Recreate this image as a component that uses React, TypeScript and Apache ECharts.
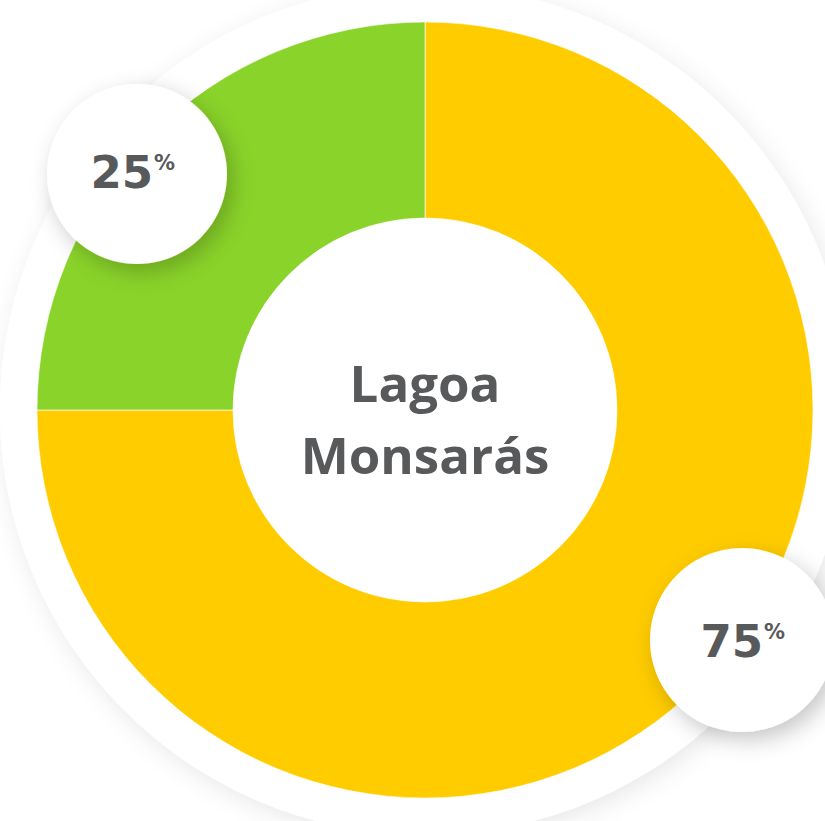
import React, { useEffect, useRef } from "react";
import * as echarts from "echarts";

const categories = ["Segmento A", "Segmento B"];
const values = [75, 25];
const colors = ["#FFCC00", "#8AD32A"];
const centerLines = ["Lagoa", "Monsarás"];

const FONT = "'Open Sans', 'DejaVu Sans', sans-serif";
const NUM_FONT = "'DejaVu Sans', 'Open Sans', sans-serif";
const TEXT_COLOR = "#58595B";

function badge(cx: number, cy: number, r: number, value: number, tx: number, ty: number) {
  return {
    type: "group",
    z: 100,
    children: [
      {
        type: "circle",
        shape: { cx, cy, r },
        style: {
          fill: "#ffffff",
          shadowBlur: 22,
          shadowOffsetX: 6,
          shadowOffsetY: 8,
          shadowColor: "rgba(0,0,0,0.22)",
        },
        z: 100,
      },
      {
        type: "text",
        x: tx,
        y: ty,
        style: {
          text: String(value),
          fill: TEXT_COLOR,
          font: `bold 45px ${NUM_FONT}`,
          textAlign: "right",
          textVerticalAlign: "middle",
        },
        z: 101,
      },
      {
        type: "text",
        x: tx + 1,
        y: ty - 9,
        style: {
          text: "%",
          fill: TEXT_COLOR,
          font: `bold 21px ${NUM_FONT}`,
          textAlign: "left",
          textVerticalAlign: "middle",
        },
        z: 101,
      },
    ],
  };
}

export default function App() {
  const ref = useRef<HTMLDivElement>(null);
  useEffect(() => {
    document.body.style.margin = "0";
    if (!ref.current) return;
    const chart = echarts.init(ref.current, undefined, { renderer: "svg" });
    chart.setOption({
      animation: false,
      backgroundColor: "#ffffff",
      series: [
        {
          type: "pie",
          silent: true,
          z: 1,
          center: [425, 410],
          radius: [0, 425],
          label: { show: false },
          labelLine: { show: false },
          data: [{ value: 1, name: "halo" }],
          itemStyle: {
            color: "#ffffff",
            shadowBlur: 24,
            shadowOffsetX: 4,
            shadowOffsetY: 6,
            shadowColor: "rgba(0,0,0,0.09)",
          },
        },
        {
          type: "pie",
          z: 2,
          center: [425, 410],
          radius: [192, 388],
          startAngle: 90,
          clockwise: true,
          label: { show: false },
          labelLine: { show: false },
          itemStyle: { borderColor: "rgba(255,255,255,0.6)", borderWidth: 1 },
          data: categories.map((name, i) => ({
            name,
            value: values[i],
            itemStyle: { color: colors[i] },
          })),
        },
      ],
      graphic: [
        {
          type: "text",
          x: 425,
          y: 418,
          z: 50,
          style: {
            text: centerLines.join("\n"),
            fill: TEXT_COLOR,
            font: `bold 51px ${FONT}`,
            lineHeight: 72,
            textAlign: "center",
            textVerticalAlign: "middle",
          },
        },
        badge(137, 174, 90, values[1], 153, 172),
        badge(742, 640, 92, values[0], 763, 641),
      ],
    });
    return () => chart.dispose();
  }, []);
  return <div ref={ref} style={{ width: 825, height: 821 }} />;
}
